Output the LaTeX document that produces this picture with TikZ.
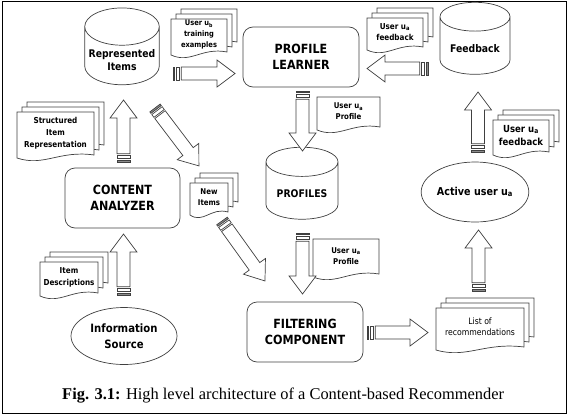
\documentclass[tikz,border=0pt]{standalone}
\usepackage{fontspec}
\setmainfont{Liberation Serif}
\newfontfamily\lblfont[FakeStretch=0.88]{DejaVu Sans}
\usetikzlibrary{shapes.geometric,calc}

\tikzset{
  ln/.style={draw=black!75, line width=0.6pt},
  box/.style={ln, rounded corners=0.3cm, minimum width=3.48cm, minimum height=1.8cm,
    align=center, font=\lblfont\bfseries\fontsize{10.8}{13.7}\selectfont},
  db/.style={ln, cylinder, shape border rotate=90, aspect=0.5, minimum width=2.1cm,
    minimum height=2.1cm, align=center, font=\lblfont\bfseries\fontsize{9}{11}\selectfont},
  oval/.style={ln, ellipse, inner sep=0pt, align=center,
    font=\lblfont\bfseries\fontsize{9.8}{13.7}\selectfont},
  doctext/.style={inner sep=0pt, align=center},
}

\def\unitpt{0.853583}
% one sheet with a wavy lower edge (pixel units)
\newcommand{\sheet}[4]{%
  \filldraw[ln,fill=white] (#1,#2) -- (#3,#2) -- (#3,#4-3)
    .. controls ({#3-0.45*(#3-#1)},#4-8) and ({#1+0.35*(#3-#1)},#4+9) .. (#1,#4) -- cycle;}
% name, x0, y0, x1, y1, sheets behind, font, text
\newcommand{\docstack}[8]{%
  \ifnum#6>0 \foreach \k in {#6,...,1}{%
    \begin{scope}[shift={(5*\k,-5*\k)}]\sheet{#2}{#3}{#4}{#5}\end{scope}}\fi
  \sheet{#2}{#3}{#4}{#5}
  \node[doctext, font=\lblfont#7] (#1) at ({(#2+#4)/2},{(#3+#5)/2-2}) {#8};}
% hollow block arrow from one named coordinate to another
\newcommand{\fatarrow}[2]{%
  \path let \p1=($(#2)-(#1)$) in \pgfextra{%
    \pgfmathsetmacro{\arrlen}{veclen(\x1,\y1)/\unitpt}\global\let\arrlen\arrlen
    \pgfmathsetmacro{\arrang}{atan2(\y1,\x1)}\global\let\arrang\arrang};
  \begin{scope}[shift={(#1)},rotate=\arrang,x=0.03cm,y=0.03cm]
    \filldraw[ln,fill=black!45] (0,-6.5) rectangle (1.8,6.5);
    \draw[ln] (3.3,-6.5) rectangle (6.8,6.5);
    \filldraw[ln,fill=white] (8.3,-6.5) -- (\arrlen-18,-6.5) -- (\arrlen-18,-13.5)
      -- (\arrlen,0) -- (\arrlen-18,13.5) -- (\arrlen-18,6.5) -- (8.3,6.5) -- cycle;
  \end{scope}}

\begin{document}
\begin{tikzpicture}[x=0.03cm, y=-0.03cm]
\useasboundingbox (0,0) rectangle (568,417);
\draw[black, line width=0.8pt] (2,1) rectangle (566,413);

% stores, boxes, ovals
\node[db] (ri) at (122,60) {Represented\\Items};
\node[db, minimum height=2.16cm] (fb) at (475,49) {Feedback};
\node[db, minimum width=2.16cm, minimum height=2.16cm] (pr) at (302,194) {PROFILES};
\node[box] (pl) at (301,57) {PROFILE\\LEARNER};
\node[box, minimum width=3.45cm] (ca) at (122.5,198) {CONTENT\\ANALYZER};
\node[box] (fc) at (305,332) {FILTERING\\COMPONENT};
\node[oval, minimum width=3.18cm, minimum height=1.71cm] (is) at (124,336) {Information\\Source};
\node[oval, minimum width=2.61cm, minimum height=1.8cm,
  font=\lblfont\bfseries\fontsize{9.3}{11}\selectfont] (au) at (475,192) {Active user u\textsubscript{a}};

% documents
\docstack{trn}{171}{19}{227}{55}{2}{\bfseries\fontsize{6.5}{9.4}\selectfont}{User u\textsubscript{b}\\training\\examples}
\docstack{fbt}{367}{18}{423}{50}{2}{\bfseries\fontsize{7}{9.4}\selectfont}{User u\textsubscript{a}\\feedback}
\docstack{prf}{317}{97}{380}{130}{0}{\bfseries\fontsize{6.8}{9.4}\selectfont}{User u\textsubscript{a}\\Profile}
\docstack{prf2}{313}{239}{379}{277}{0}{\bfseries\fontsize{6.8}{9.4}\selectfont}{User u\textsubscript{a}\\Profile}
\docstack{fbr}{493}{120}{549}{155}{2}{\bfseries\fontsize{8.3}{11.5}\selectfont}{User u\textsubscript{a}\\feedback}
\docstack{lst}{436}{308}{524}{350}{2}{\fontsize{7.5}{9.5}\selectfont}{List of\\recommendations}
\docstack{sir}{17}{112}{94}{158}{2}{\bfseries\fontsize{7}{10.2}\selectfont}{Structured\\Item\\Representation}
\docstack{new}{190}{183}{228}{215}{2}{\bfseries\fontsize{6.8}{9.4}\selectfont}{New\\Items}
\docstack{ides}{40}{262}{98}{296}{2}{\bfseries\fontsize{7}{10}\selectfont}{Item\\Descriptions}

% arrow ends
\coordinate (ri-o) at (173,73.5);   \coordinate (pl-i) at (235,73.5);
\coordinate (fb-o) at (428,68.5);   \coordinate (pl-i2) at (367,68.5);
\coordinate (pl-o) at (302.5,91);   \coordinate (pr-i) at (302.5,151);
\coordinate (pr-o) at (302.5,233);  \coordinate (fc-i) at (302.5,294);
\coordinate (fc-o) at (367,332.5);  \coordinate (lst-i) at (428,332.5);
\coordinate (lst-o) at (478.5,291); \coordinate (au-i) at (478.5,230);
\coordinate (au-o) at (478,152);    \coordinate (fb-i) at (478,92);
\coordinate (ca-o) at (123.5,162);  \coordinate (ri-i) at (123.5,100);
\coordinate (is-o) at (123.5,295);  \coordinate (ca-i) at (123.5,234);
\coordinate (ri-o2) at (155,108);   \coordinate (new-i) at (199,166);
\coordinate (new-o) at (222,221);   \coordinate (fc-i2) at (265,281);

\fatarrow{ri-o}{pl-i}
\fatarrow{fb-o}{pl-i2}
\fatarrow{pl-o}{pr-i}
\fatarrow{pr-o}{fc-i}
\fatarrow{fc-o}{lst-i}
\fatarrow{lst-o}{au-i}
\fatarrow{au-o}{fb-i}
\fatarrow{ca-o}{ri-i}
\fatarrow{is-o}{ca-i}
\fatarrow{ri-o2}{new-i}
\fatarrow{new-o}{fc-i2}

\node[anchor=base west, inner sep=0pt, font=\fontsize{14}{16}\selectfont] (cap) at (62,399)
  {\textbf{Fig. 3.1:} High level architecture of a Content-based Recommender};
\end{tikzpicture}
\end{document}
